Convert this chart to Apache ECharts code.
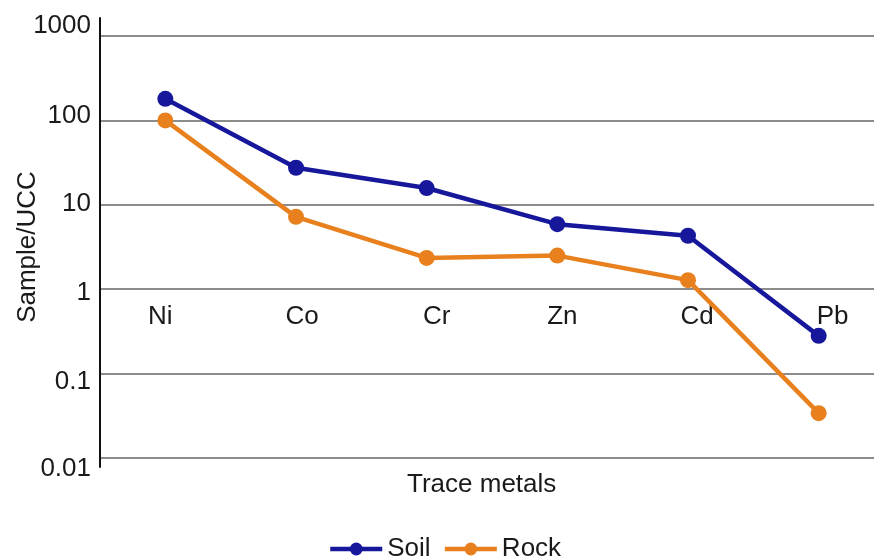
<!DOCTYPE html>
<html>
<head>
<meta charset="utf-8">
<script src="https://cdn.jsdelivr.net/npm/echarts@6/dist/echarts.min.js"></script>
<style>
  html, body { margin: 0; padding: 0; background: #fff; }
  #chart { width: 874px; height: 560px; }
</style>
</head>
<body>
<div id="chart"></div>
<script>
// Trace metal concentrations normalised to upper continental crust (UCC)
const categories = ['Ni', 'Co', 'Cr', 'Zn', 'Cd', 'Pb'];
const soil = [180, 27.5, 15.8, 5.9, 4.3, 0.28];
const rock = [100, 7.2, 2.35, 2.5, 1.28, 0.034];
const yTickLabels = ['0.01', '0.1', '1', '10', '100', '1000'];

// Small typographic nudges for the tick labels (px; + = right / down)
const xLabelShift = [-5, 6, 10, 5, 9, 14];
const yLabelShift = [11, 8, 4, -1, -5, -10];

const FONT = 'Liberation Sans, Arial, sans-serif';
const TEXT = '#1a1a1a';
const BLUE = '#16179a';
const ORANGE = '#e8801e';

const xRich = {};
xLabelShift.forEach((d, i) => {
  xRich['x' + i] = {
    fontSize: 26, fontFamily: FONT, color: TEXT,
    padding: d >= 0 ? [0, 0, 0, 2 * d] : [0, -2 * d, 0, 0]
  };
});
const yRich = {};
yLabelShift.forEach((d, i) => {
  yRich['y' + i] = {
    fontSize: 26, fontFamily: FONT, color: TEXT,
    padding: d >= 0 ? [2 * d, 0, 0, 0] : [0, 0, -2 * d, 0]
  };
});

const chart = echarts.init(document.getElementById('chart'), null, { renderer: 'canvas' });

chart.setOption({
  animation: false,
  backgroundColor: '#ffffff',
  textStyle: { fontFamily: FONT },
  title: {
    text: 'Trace metals',
    left: 407,
    top: 472,
    padding: 0,
    textStyle: { fontSize: 26, fontWeight: 'normal', color: TEXT, fontFamily: FONT }
  },
  legend: {
    data: ['Soil', 'Rock'],
    left: 328,
    top: 536,
    padding: 0,
    itemWidth: 52,
    itemHeight: 16,
    itemGap: 12,
    lineStyle: { width: 4.5 },
    textStyle: { fontSize: 26, color: TEXT, fontFamily: FONT }
  },
  grid: [
    { left: 100, top: 36, width: 784, height: 422, containLabel: false, outerBoundsMode: 'none' },
    // frame for the taller vertical axis line
    { left: 100, top: 18, width: 784, height: 449, containLabel: false, outerBoundsMode: 'none' }
  ],
  xAxis: [
    {
      type: 'category',
      gridIndex: 0,
      data: categories,
      boundaryGap: true,
      offset: -162,
      axisLine: { show: false },
      axisTick: { show: false },
      splitLine: { show: false },
      axisLabel: {
        margin: 8,
        interval: 0,
        formatter: (v, i) => '{x' + i + '|' + v + '}',
        rich: xRich
      }
    },
    {
      type: 'value',
      gridIndex: 1,
      show: false
    }
  ],
  yAxis: [
    {
      type: 'log',
      gridIndex: 0,
      logBase: 10,
      min: 0.01,
      max: 1000,
      name: 'Sample/UCC',
      nameLocation: 'middle',
      nameRotate: 90,
      nameGap: 59,
      nameMoveOverlap: false,
      nameTextStyle: { fontSize: 26, color: TEXT, fontFamily: FONT },
      axisLine: { show: false },
      axisTick: { show: false },
      splitLine: { show: true, lineStyle: { color: '#8c8c8c', width: 2 } },
      axisLabel: {
        margin: 9,
        formatter: (v, i) => '{y' + i + '|' + yTickLabels[i] + '}',
        rich: yRich
      }
    },
    {
      type: 'value',
      gridIndex: 1,
      min: 0,
      max: 1,
      axisLine: { show: true, onZero: false, lineStyle: { color: '#111', width: 2 } },
      axisTick: { show: false },
      axisLabel: { show: false },
      splitLine: { show: false }
    }
  ],
  series: [
    {
      name: 'Soil',
      type: 'line',
      xAxisIndex: 0,
      yAxisIndex: 0,
      data: soil,
      symbol: 'circle',
      symbolSize: 16,
      color: BLUE,
      lineStyle: { width: 4.5, color: BLUE },
      itemStyle: { color: BLUE },
      z: 3
    },
    {
      name: 'Rock',
      type: 'line',
      xAxisIndex: 0,
      yAxisIndex: 0,
      data: rock,
      symbol: 'circle',
      symbolSize: 16,
      color: ORANGE,
      lineStyle: { width: 4.5, color: ORANGE },
      itemStyle: { color: ORANGE },
      z: 2
    }
  ]
});
</script>
</body>
</html>
